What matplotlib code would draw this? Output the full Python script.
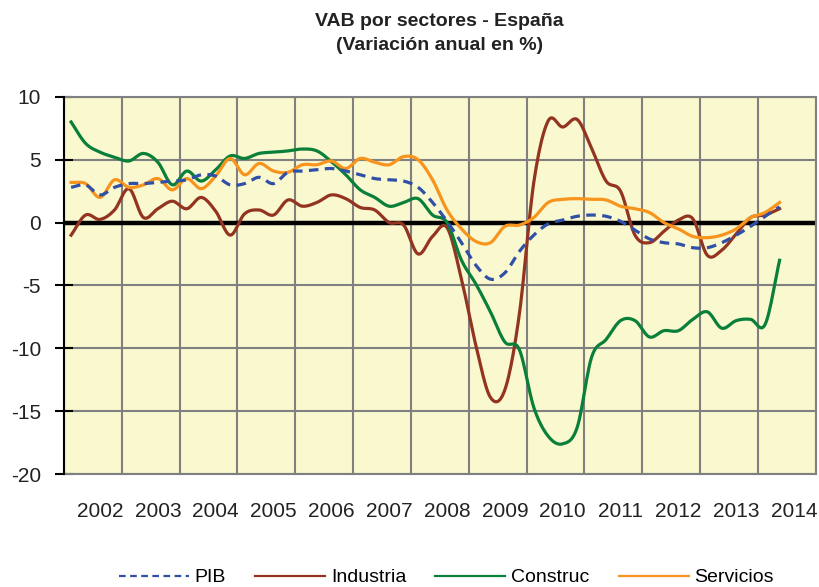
import numpy as np
import matplotlib
matplotlib.use("Agg")
from matplotlib import pyplot as plt

plt.rcParams['font.family'] = ['Liberation Sans', 'DejaVu Sans']
plt.rcParams['axes.unicode_minus'] = False

# quarterly data, one value per quarter (50 quarters)
years = ["2002", "2003", "2004", "2005", "2006", "2007", "2008",
         "2009", "2010", "2011", "2012", "2013", "2014"]

pib = [2.8, 3.0, 2.2, 2.8, 3.1, 3.1, 3.2, 3.3, 3.4, 3.8,
       3.7, 3.0, 3.1, 3.6, 3.1, 4.0, 4.1, 4.2, 4.3, 4.1,
       3.8, 3.5, 3.4, 3.3, 2.8, 1.6, 0.1, -1.6, -3.4, -4.5,
       -4.0, -2.3, -1.0, -0.1, 0.2, 0.5, 0.6, 0.5, 0.1, -0.6,
       -1.3, -1.6, -1.7, -2.0, -2.0, -1.6, -1.0, -0.3, 0.5, 1.25]

industria = [-1.0, 0.6, 0.25, 1.0, 2.7, 0.4, 1.1, 1.7, 1.1, 2.0,
             0.9, -1.0, 0.7, 1.0, 0.6, 1.8, 1.3, 1.6, 2.2, 1.9,
             1.2, 1.0, 0.0, -0.2, -2.5, -1.1, -0.4, -4.5, -9.8, -13.9,
             -13.3, -7.3, 3.2, 8.1, 7.6, 8.2, 5.9, 3.3, 2.5, -1.0,
             -1.6, -0.7, 0.2, 0.3, -2.6, -2.2, -0.9, 0.4, 0.6, 1.1]

construc = [8.0, 6.3, 5.6, 5.2, 4.9, 5.5, 4.8, 3.0, 4.1, 3.3,
            4.2, 5.3, 5.1, 5.5, 5.6, 5.7, 5.85, 5.7, 4.85, 3.8,
            2.6, 2.0, 1.3, 1.6, 1.9, 0.6, 0.0, -3.0, -4.9, -7.1,
            -9.5, -10.1, -14.7, -17.0, -17.6, -16.3, -10.7, -9.3, -7.8, -7.8,
            -9.1, -8.6, -8.6, -7.7, -7.1, -8.4, -7.8, -7.7, -8.1, -3.0]

servicios = [3.2, 3.1, 2.0, 3.4, 2.8, 3.0, 3.5, 2.6, 3.5, 2.7,
             3.7, 5.1, 3.8, 4.7, 4.1, 4.0, 4.6, 4.6, 4.9, 4.3,
             5.1, 4.8, 4.6, 5.25, 5.0, 3.4, 1.0, -0.5, -1.5, -1.6,
             -0.3, -0.2, 0.4, 1.6, 1.85, 1.9, 1.85, 1.8, 1.3, 1.1,
             0.8, 0.0, -0.5, -1.1, -1.2, -1.0, -0.5, 0.4, 0.8, 1.6]

series = [("PIB", pib, "#3050A8", "--"),
          ("Industria", industria, "#923420", "-"),
          ("Construc", construc, "#0A7F3A", "-"),
          ("Servicios", servicios, "#F7941D", "-")]


def smooth(y, n=12):
    # catmull-rom through the points, like the smoothed lines of the source
    y = np.asarray(y, float)
    x = np.arange(len(y), dtype=float)
    p = np.concatenate([[2 * y[0] - y[1]], y, [2 * y[-1] - y[-2]]])
    xs, ys = [], []
    for i in range(len(y) - 1):
        t = np.linspace(0, 1, n, endpoint=False)
        p0, p1, p2, p3 = p[i], p[i + 1], p[i + 2], p[i + 3]
        ys.append(0.5 * (2 * p1 + (-p0 + p2) * t
                         + (2 * p0 - 5 * p1 + 4 * p2 - p3) * t ** 2
                         + (-p0 + 3 * p1 - 3 * p2 + p3) * t ** 3))
        xs.append(x[i] + t)
    xs.append([x[-1]])
    ys.append([y[-1]])
    return np.concatenate(xs), np.concatenate(ys)


fig = plt.figure(figsize=(8.19, 5.87), dpi=100)
ax = fig.add_axes([0.078, 0.1925, 0.918, 0.6425])
ax.set_facecolor("#FAF8CF")

for name, vals, col, ls in series:
    xs, ys = smooth(vals)
    if ls == "--":
        ax.plot(xs, ys, color=col, lw=2.3, ls=(0, (3, 2)), label=name, zorder=4)
    else:
        ax.plot(xs, ys, color=col, lw=2.3, label=name, zorder=3)

ax.axhline(0, color="black", lw=3.2, zorder=2)

nq = 4 * len(years)
ax.set_xlim(-0.5, nq - 0.5)
ax.set_ylim(-20, 10)
ax.set_yticks(np.arange(-20, 11, 5))
ax.set_xticks(np.arange(-0.5, nq, 4))
ax.set_xticklabels([])
ax.set_xticks(np.arange(2.0, nq, 4), minor=True)
ax.set_xticklabels(years, minor=True)
ax.tick_params(axis="x", which="both", length=0)
ax.tick_params(axis="x", which="minor", pad=20, labelsize=15, colors="#222222")
ax.tick_params(axis="y", direction="inout", length=13, width=1.5, pad=10,
               labelsize=15, colors="black", labelcolor="#222222")
ax.grid(True, which="major", color="#808080", lw=1.5, zorder=1)

for side in ["top", "right", "bottom"]:
    ax.spines[side].set_color("#808080")
    ax.spines[side].set_linewidth(1.5)
ax.spines["left"].set_color("black")
ax.spines["left"].set_linewidth(1.5)
ax.spines["left"].set_zorder(5)

fig.text(0.537, 0.964, "VAB por sectores - España", ha="center", va="center",
         fontsize=14, fontweight="bold", color="#222222")
fig.text(0.537, 0.922, "(Variación anual en %)", ha="center", va="center",
         fontsize=14, fontweight="bold", color="#222222")

leg = fig.legend(loc="center", bbox_to_anchor=(0.545, 0.016), ncol=4, frameon=False,
                 fontsize=14, handlelength=3.6, handletextpad=0.3, columnspacing=1.5)
for line in leg.get_lines():
    line.set_linewidth(1.6)

fig.savefig("out.png", dpi=100)
